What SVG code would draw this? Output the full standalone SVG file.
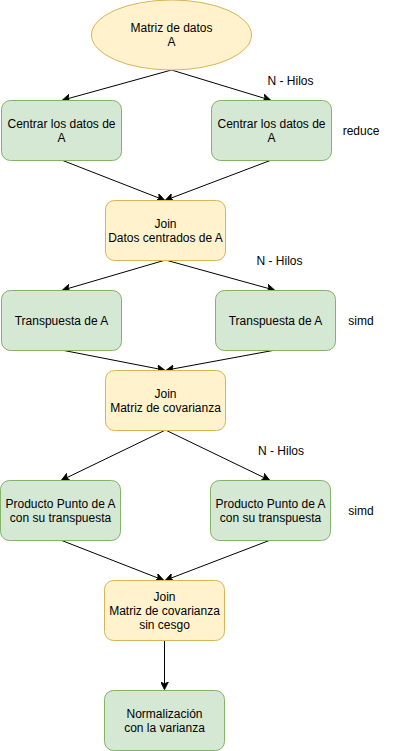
<svg xmlns="http://www.w3.org/2000/svg" width="412" height="751" viewBox="0 0 412 751">
<style>
text{font-family:"Liberation Sans",Arial,sans-serif;font-size:12px;fill:#000;text-anchor:middle}
.g{fill:#d5e8d4;stroke:#82b366;stroke-width:1}
.y{fill:#fff2cc;stroke:#d6b656;stroke-width:1}
.e{fill:none;stroke:#000;stroke-width:1;marker-end:url(#arr)}
.lbl{text-anchor:start}
</style>
<defs>
<marker id="arr" viewBox="0 0 10 10" refX="9" refY="5" markerWidth="8" markerHeight="8" markerUnits="userSpaceOnUse" orient="auto">
<path d="M0,0 L10,5 L0,10 L2.5,5 Z" fill="#000" stroke="#000" stroke-width="1"/>
</marker>
</defs>
<rect width="412" height="751" fill="#fff"/>
<g id="connectors">
<path class="e" d="M171.5,70 L63,100"/>
<path class="e" d="M171.5,70 L270,100"/>
<path class="e" d="M61.5,160 L164,200"/>
<path class="e" d="M271.5,160 L166,200"/>
<path class="e" d="M165.5,260 L63,290"/>
<path class="e" d="M165.5,260 L274,290"/>
<path class="e" d="M61.5,350 L164,370"/>
<path class="e" d="M275.5,350 L167,370"/>
<path class="e" d="M165.5,430 L62,480"/>
<path class="e" d="M165.5,430 L269,480"/>
<path class="e" d="M60.5,540 L163,580"/>
<path class="e" d="M270.5,540 L166,580"/>
<path class="e" d="M164.5,640 L164.5,689"/>
</g>
<g id="matriz">
<ellipse class="y" cx="171.5" cy="35" rx="80" ry="35"/>
<text x="171.5" y="32">Matriz de datos</text>
<text x="171.5" y="46">A</text>
</g>
<g id="centrar1">
<rect class="g" x="1.5" y="100.5" width="120" height="60" rx="9"/>
<text x="61.5" y="128">Centrar los datos de</text>
<text x="61.5" y="142">A</text>
</g>
<g id="centrar2">
<rect class="g" x="211.5" y="100.5" width="120" height="60" rx="9"/>
<text x="271.5" y="128">Centrar los datos de</text>
<text x="271.5" y="142">A</text>
</g>
<g id="join1">
<rect class="y" x="105.5" y="200.5" width="120" height="60" rx="9"/>
<text x="165.5" y="228">Join</text>
<text x="165.5" y="242">Datos centrados de A</text>
</g>
<g id="transp1">
<rect class="g" x="1.5" y="290.5" width="120" height="60" rx="9"/>
<text x="61.5" y="325">Transpuesta de A</text>
</g>
<g id="transp2">
<rect class="g" x="215.5" y="290.5" width="120" height="60" rx="9"/>
<text x="275.5" y="325">Transpuesta de A</text>
</g>
<g id="join2">
<rect class="y" x="105.5" y="370.5" width="120" height="60" rx="9"/>
<text x="165.5" y="398">Join</text>
<text x="165.5" y="412">Matriz de covarianza</text>
</g>
<g id="prod1">
<rect class="g" x="0.5" y="480.5" width="120" height="60" rx="9"/>
<text x="60.5" y="508">Producto Punto de A</text>
<text x="60.5" y="522">con su transpuesta</text>
</g>
<g id="prod2">
<rect class="g" x="210.5" y="480.5" width="120" height="60" rx="9"/>
<text x="270.5" y="508">Producto Punto de A</text>
<text x="270.5" y="522">con su transpuesta</text>
</g>
<g id="join3">
<rect class="y" x="104.5" y="580.5" width="120" height="60" rx="9"/>
<text x="164.5" y="601">Join</text>
<text x="164.5" y="615">Matriz de covarianza</text>
<text x="164.5" y="629">sin cesgo</text>
</g>
<g id="norm">
<rect class="g" x="104.5" y="690.5" width="120" height="60" rx="9"/>
<text x="164.5" y="718">Normalización</text>
<text x="164.5" y="732">con la varianza</text>
</g>
<g id="labels">
<text x="290.5" y="85">N - Hilos</text>
<text x="361" y="135">reduce</text>
<text x="279.5" y="265">N - Hilos</text>
<text x="361" y="325">simd</text>
<text x="281" y="455">N - Hilos</text>
<text x="361" y="515">simd</text>
</g>
</svg>
